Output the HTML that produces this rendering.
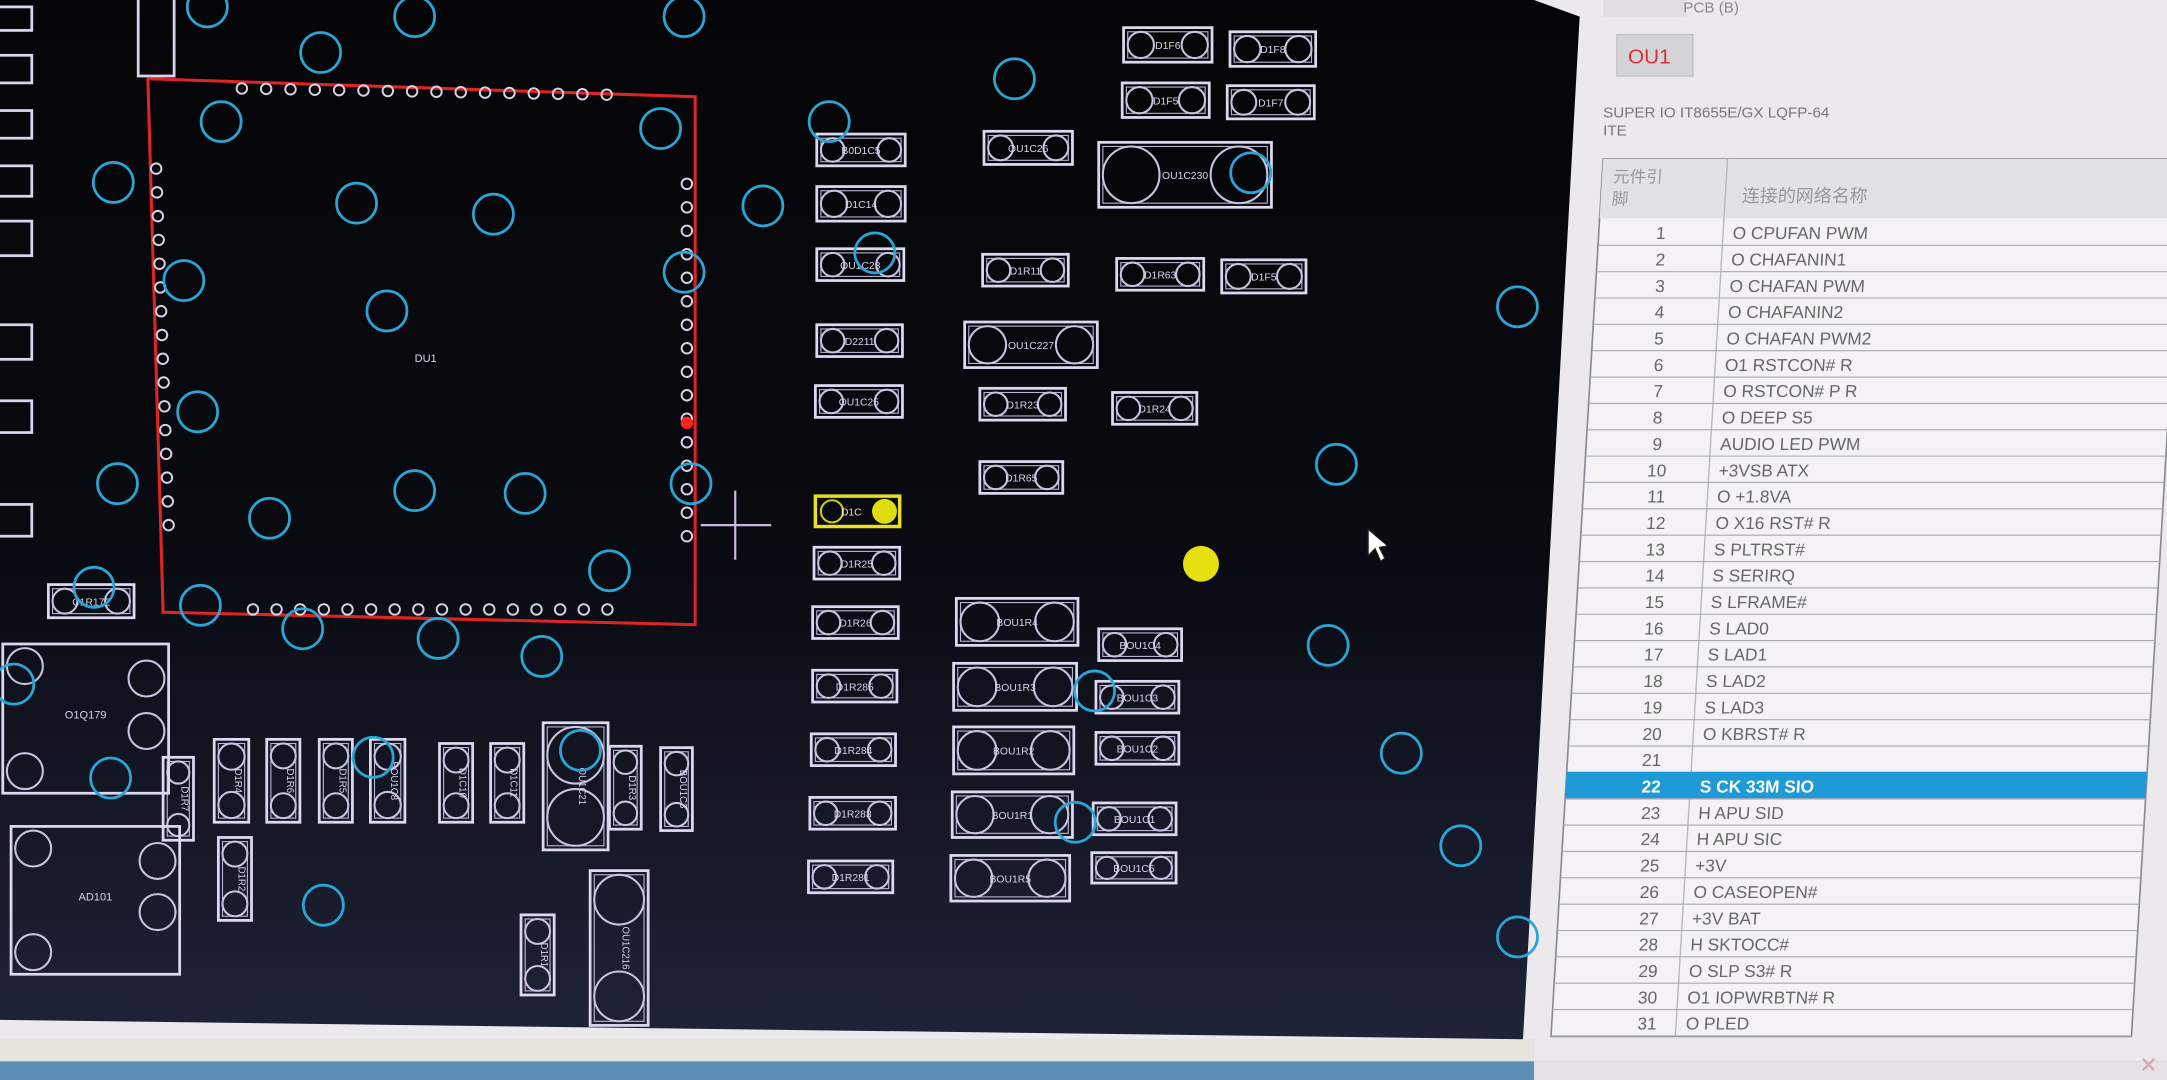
<!DOCTYPE html>
<html><head><meta charset="utf-8"><style>
html,body{margin:0;padding:0;width:2167px;height:1080px;overflow:hidden;background:#e9e7e4}
svg{display:block}
</style></head><body>
<svg id="s" width="2167" height="1080" viewBox="0 0 1568 781.5" preserveAspectRatio="none" xmlns="http://www.w3.org/2000/svg" font-family="Liberation Sans, Noto Sans CJK SC, sans-serif">
<defs>
<linearGradient id="bg" x1="0" y1="0" x2="0" y2="1">
<stop offset="0" stop-color="#050507"/><stop offset="0.55" stop-color="#0a0b12"/><stop offset="1" stop-color="#1f2338"/>
</linearGradient>
</defs>
<rect x="0" y="0" width="1568" height="781.5" fill="#ebe9ec"/>
<rect x="0" y="752" width="1110" height="20" fill="#e6e3dc"/>
<rect x="0" y="768" width="1568" height="14" fill="#5b8fb5"/>
<rect x="1110" y="768" width="460" height="14" fill="#e4e2e4"/>
<polygon points="0,0 1110,0 1143,12 1102,752 0,738" fill="url(#bg)"/>
<rect x="1160" y="0" width="60" height="12" fill="#e0dee4"/>
<text x="1218" y="9" font-size="11" fill="#888">PCB (B)</text>
<rect x="1170" y="25" width="55" height="30" fill="#d4d3d8" stroke="#c0bfc6"/>
<text x="1178" y="46" font-size="15" fill="#d8303a">OU1</text>
<text x="1160" y="85" font-size="11" fill="#777">SUPER IO IT8655E/GX LQFP-64</text>
<text x="1160" y="98" font-size="11" fill="#777">ITE</text>
<g id="tbl"></g>
<g id="pcb"></g>
</svg>
<script>
var NS="http://www.w3.org/2000/svg";
function el(p,t,a,txt){var e=document.createElementNS(NS,t);for(var k in a)e.setAttribute(k,a[k]);if(txt!=null)e.textContent=txt;p.appendChild(e);return e;}
var pcb=document.getElementById('pcb'),tbl=document.getElementById('tbl');
var T=el(tbl,'g',{transform:'translate(1160,115) skewX(-3.4) translate(-1160,-115)'});
el(T,'rect',{x:1160,y:115,width:420,height:635,fill:'#f4f2f5',stroke:'#8a8a96','stroke-width':1.2});
el(T,'rect',{x:1160,y:115,width:420,height:43,fill:'#e2e1e6'});
el(T,'line',{x1:1250,y1:115,x2:1250,y2:750,stroke:'#b8b8c0'});
el(T,'text',{x:1168,y:132,'font-size':12,fill:'#999'},'元件引');
el(T,'text',{x:1168,y:148,'font-size':12,fill:'#999'},'脚');
el(T,'text',{x:1262,y:146,'font-size':13,fill:'#999'},'连接的网络名称');
var names=["O CPUFAN PWM","O CHAFANIN1","O CHAFAN PWM","O CHAFANIN2","O CHAFAN PWM2","O1 RSTCON# R","O RSTCON# P R","O DEEP S5","AUDIO LED PWM","+3VSB ATX","O +1.8VA","O X16 RST# R","S PLTRST#","S SERIRQ","S LFRAME#","S LAD0","S LAD1","S LAD2","S LAD3","O KBRST# R","","S CK 33M SIO","H APU SID","H APU SIC","+3V","O CASEOPEN#","+3V BAT","H SKTOCC#","O SLP S3# R","O1 IOPWRBTN# R","O PLED"];
for(var i=0;i<31;i++){var cy=168+i*19.07;
 if(i==21){el(T,'rect',{x:1160,y:cy-10,width:420,height:20,fill:'#1e9ad6'});}
 el(T,'line',{x1:1160,y1:cy+9.5,x2:1580,y2:cy+9.5,stroke:'#a8a8b2','stroke-width':0.8});
 var c=i==21?'#fff':'#666';
 el(T,'text',{x:1205+i*0.8,y:cy+5,'font-size':12.5,fill:c,'text-anchor':'middle','font-weight':i==21?'bold':'normal'},String(i+1));
 el(T,'text',{x:1257,y:cy+5,'font-size':12.5,fill:c,'font-weight':i==21?'bold':'normal'},names[i]);
}
el(pcb,'text',{x:1548,y:776,'font-size':16,fill:'#e0a0b0'},'✕');
[[5,22],[40,60],[80,100],[120,142],[160,185],[235,260],[290,313],[365,388]].forEach(function(r){el(pcb,'rect',{x:-5,y:r[0],width:28,height:r[1]-r[0],fill:'none',stroke:'#d8d4ee','stroke-width':2});});
el(pcb,'rect',{x:100,y:-5,width:26,height:60,fill:'none',stroke:'#d8d4ee','stroke-width':2});
el(pcb,'polygon',{points:'107,57 503,70 503,452 118,443',fill:'none',stroke:'#e02424','stroke-width':2.2});
function pin(x,y){el(pcb,'circle',{cx:x,cy:y,r:3.8,fill:'none',stroke:'#d8d4e8','stroke-width':1.4});}
for(var i=0;i<16;i++){pin(175+i*17.6,64+i*0.3);pin(183+i*17.1,441);}
for(var i=0;i<16;i++){pin(113+i*0.6,122+i*17.2);pin(497,133+i*17);}
el(pcb,'circle',{cx:497,cy:306,r:4.5,fill:'#ff2020'});
el(pcb,'text',{x:300,y:262,'font-size':8,fill:'#d8d4ee'},'DU1');
el(pcb,'line',{x1:507,y1:380,x2:558,y2:380,stroke:'#c8b8e0','stroke-width':1.6});
el(pcb,'line',{x1:532,y1:355,x2:532,y2:405,stroke:'#c8b8e0','stroke-width':1.6});
function comp(x1,y1,x2,y2,lab,fill){var w=x2-x1,h=y2-y1;
 el(pcb,'rect',{x:x1,y:y1,width:w,height:h,fill:fill||'none',stroke:'#dcd8f0','stroke-width':2});
 el(pcb,'rect',{x:x1+3,y:y1+3,width:w-6,height:h-6,fill:'none',stroke:'#b8b4d4','stroke-width':0.8});
 var r=Math.min(w,h)/2-3;
 if(w>=h){el(pcb,'circle',{cx:x1+3+r,cy:y1+h/2,r:r,fill:'none',stroke:'#c8c4e0','stroke-width':1.5});el(pcb,'circle',{cx:x2-3-r,cy:y1+h/2,r:r,fill:'none',stroke:'#c8c4e0','stroke-width':1.5});
  el(pcb,'text',{x:x1+w/2,y:y1+h/2+3,'font-size':7.5,fill:'#d8d4ee','text-anchor':'middle'},lab);}
 else{el(pcb,'circle',{cx:x1+w/2,cy:y1+3+r,r:r,fill:'none',stroke:'#c8c4e0','stroke-width':1.5});el(pcb,'circle',{cx:x1+w/2,cy:y2-3-r,r:r,fill:'none',stroke:'#c8c4e0','stroke-width':1.5});
  el(pcb,'text',{x:0,y:0,'font-size':7,fill:'#d8d4ee','text-anchor':'middle',transform:'translate('+(x1+w/2+2.5)+','+(y1+h/2)+') rotate(90)'},lab);}
}
var C=[[813,20,877,45,'D1F6'],[890,23,952,48,'D1F8'],[812,60,875,85,'D1F5'],[888,62,951,86,'D1F7'],
[591,97,655,120,'B0D1C5'],[712,95,776,119,'OU1C26'],[795,103,920,150,'OU1C230'],[591,135,655,160,'D1C14'],
[591,180,654,203,'OU1C23'],[711,184,773,207,'D1R11'],[808,187,871,210,'D1R63'],[884,188,945,212,'D1F5'],
[591,235,653,258,'D2211'],[698,233,794,266,'OU1C227'],[590,279,653,302,'OU1C25'],[709,281,771,304,'D1R23'],[805,284,866,307,'D1R24'],
[709,334,769,357,'D1R65'],[589,396,651,419,'D1R25'],
[588,439,650,462,'D1R26'],[692,433,780,467,'BOU1R4'],[795,455,855,478,'BOU1C4'],
[588,485,649,508,'D1R285'],[690,480,779,514,'BOU1R3'],[793,493,853,516,'BOU1C3'],
[587,531,648,554,'D1R284'],[690,526,777,560,'BOU1R2'],[793,530,853,553,'BOU1C2'],
[586,577,648,600,'D1R283'],[689,573,776,606,'BOU1R1'],[791,581,851,604,'BOU1C1'],
[585,623,646,646,'D1R281'],[688,619,774,652,'BOU1R5'],[790,617,851,639,'BOU1C5'],
[35,423,97,447,'C1R172'],
[118,548,140,608,'D1R7'],[155,535,180,595,'D1R4'],[193,535,217,595,'D1R6'],[231,535,255,595,'D1R5'],[268,535,293,595,'BOU1C8'],[318,538,342,595,'D1C10'],[355,538,379,595,'D1C11'],[393,523,440,615,'OU1C21'],[441,540,464,600,'D1R3'],[478,541,501,601,'BOU1C3'],[158,606,182,666,'D1R2'],[377,662,401,720,'D1R1'],[427,630,469,742,'OU1C216']];
C.forEach(function(c){comp(c[0],c[1],c[2],c[3],c[4]);});
el(pcb,'rect',{x:590,y:359,width:61,height:22,fill:'none',stroke:'#e8e020','stroke-width':2.5});
el(pcb,'circle',{cx:602,cy:370,r:8,fill:'none',stroke:'#d0c820','stroke-width':1.5});
el(pcb,'circle',{cx:640,cy:370,r:9,fill:'#e0dc10'});
el(pcb,'text',{x:616,y:373,'font-size':7.5,fill:'#e8e4c0','text-anchor':'middle'},'D1C');
function big(x1,y1,x2,y2,lab){el(pcb,'rect',{x:x1,y:y1,width:x2-x1,height:y2-y1,fill:'none',stroke:'#dcd8f0','stroke-width':2});
 [[x1+16,y1+16],[x2-16,y1+25],[x1+16,y2-16],[x2-16,y2-45]].forEach(function(p){el(pcb,'circle',{cx:p[0],cy:p[1],r:13,fill:'none',stroke:'#c8c4e0','stroke-width':1.5});});
 el(pcb,'text',{x:(x1+x2)/2,y:(y1+y2)/2,'font-size':8,fill:'#d8d4ee','text-anchor':'middle'},lab);}
big(2,466,122,574,'O1Q179');big(8,598,130,705,'AD101');
var V=[[150,5],[300,12],[495,12],[232,38],[160,88],[478,93],[734,57],[600,88],[82,132],[258,147],[357,155],[552,149],[133,203],[280,225],[495,197],[633,183],[1098,222],[143,298],[85,350],[300,355],[380,357],[195,375],[500,350],[967,336],[441,413],[68,425],[145,438],[219,455],[317,462],[392,475],[961,467],[10,495],[792,500],[270,548],[420,543],[1014,545],[80,563],[234,655],[778,595],[1057,612],[1098,678],[905,125]];
V.forEach(function(v){el(pcb,'circle',{cx:v[0],cy:v[1],r:14.5,fill:'none',stroke:'#2aa6d6','stroke-width':2});});
el(pcb,'circle',{cx:869,cy:408,r:13,fill:'#e6e010'});
el(pcb,'path',{d:'M990,383 L990,402 L995,397 L999,406 L1002,404 L998,396 L1004,395 Z',fill:'#fff',stroke:'#222','stroke-width':0.8});
</script>
</body></html>
